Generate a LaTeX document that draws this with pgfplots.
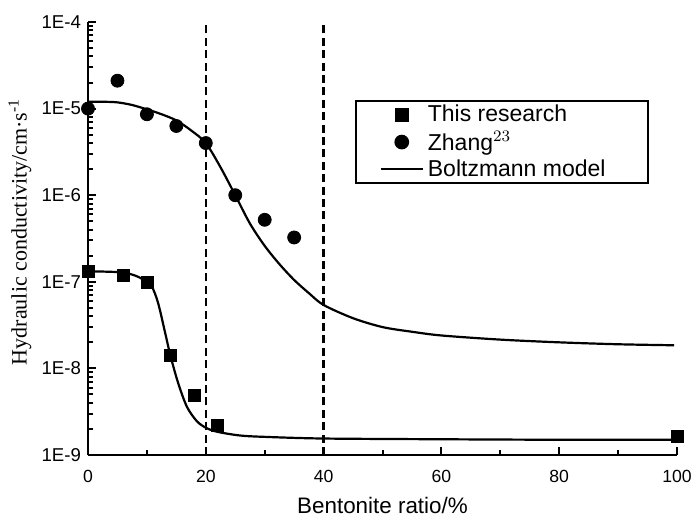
\documentclass[border=0pt]{standalone}
\usepackage{fontspec}
\setmainfont{Liberation Sans}
\newfontfamily\timesf{Liberation Serif}
\usepackage{pgfplots}
\pgfplotsset{compat=1.18}
\pgfplotsset{
 legmark/.style={legend image code/.code={\draw[##1,mark repeat=2,mark phase=2] plot coordinates {(0pt,0pt) (10.5pt,0pt) (21pt,0pt)};}},
 legline/.style={legend image code/.code={\draw[##1] (0pt,0pt) -- (21pt,0pt);}},
}
\begin{document}
\begin{tikzpicture}
\begin{axis}[
 scale only axis, width=294.5pt, height=216.5pt,
 xmin=0, xmax=100, ymin=1e-9, ymax=1e-4, ymode=log,
 axis lines=left, axis line style={line width=1.2pt,-},
 clip=false,
 tick align=inside, tick pos=left,
 major tick length=4pt, minor tick length=2.4pt,
 every tick/.style={black, line width=1pt},
 xtick={0,20,40,60,80,100}, xticklabels={0,20,40,60,80,100}, minor x tick num=1,
 ytick={1e-9,1e-8,1e-7,1e-6,1e-5,1e-4}, yticklabels={1E-9,1E-8,1E-7,1E-6,1E-5,1E-4},
 xticklabel style={font=\fontsize{8.8}{10}\selectfont, yshift=-4pt},
 yticklabel style={font=\fontsize{9.3}{10}\selectfont},
 xlabel={Bentonite ratio/\%},
 xlabel style={font=\fontsize{11.2}{13}\selectfont, at={(axis description cs:0.5,-0.0808)}, anchor=north},
 ylabel={\timesf Hydraulic conductivity/cm·s\textsuperscript{-1}},
 ylabel style={font=\fontsize{11}{13}\selectfont, at={(axis description cs:-0.1155,0.515)}, anchor=center},
 legend style={font=\fontsize{11.5}{14}\selectfont, draw=black, line width=0.85pt,
   at={(axis description cs:0.453,0.82)}, anchor=north west, inner xsep=12pt, inner ysep=0.5pt,
   nodes={inner ysep=1.6pt, inner xsep=2pt}},
 legend cell align=left,
]
\addplot[only marks, mark=square*, mark size=3pt, black, legmark]
 coordinates {(0,1.33e-7) (6,1.2e-7) (10,9.8e-8) (14,1.4e-8) (18,4.9e-9) (22,2.2e-9) (100,1.65e-9)};
\addlegendentry{This research}
\addplot[only marks, mark=*, mark size=3.25pt, black, legmark]
 coordinates {(0,1.0e-5) (5,2.1e-5) (10,8.6e-6) (15,6.3e-6) (20,4.0e-6) (25,1.0e-6) (30,5.2e-7) (35,3.25e-7)};
\addlegendentry{Zhang$^{23}$}
\addplot[black, line width=1.1pt, smooth, no marks, legline]
 coordinates {(0,1.2e-5) (2.5,1.2e-5) (5,1.18e-5) (7.5,1.1e-5) (10,9.8e-6) (12.5,8.6e-6) (15,7.3e-6) (17.5,5.6e-6) (20,4.0e-6) (22.5,2.1e-6) (25,1.0e-6) (27.5,4.7e-7) (30,2.6e-7) (32.5,1.6e-7) (35,1.05e-7) (37.5,7.4e-8) (40,5.4e-8) (45,3.8e-8) (50,3.0e-8) (55,2.65e-8) (60,2.4e-8) (70,2.15e-8) (80,2.0e-8) (90,1.9e-8) (99.5,1.85e-8)};
\addlegendentry{\makebox[96pt][l]{Boltzmann model}}
\addplot[black, line width=1.1pt, smooth, no marks, forget plot]
 coordinates {(0,1.32e-7) (3,1.31e-7) (6,1.28e-7) (8,1.18e-7) (9.5,1.05e-7) (10.8,8.9e-8) (11.9,5.7e-8) (13.1,2.57e-8) (14,1.4e-8) (15.3,6.8e-9) (16.8,3.6e-9) (18.5,2.45e-9) (20.1,2.05e-9) (22,1.85e-9) (25.8,1.68e-9) (30,1.62e-9) (40,1.55e-9) (60,1.52e-9) (80,1.5e-9) (100,1.5e-9)};
\addplot[black, line width=1.2pt, dash pattern=on 4pt off 2.2pt, forget plot] coordinates {(20,1e-9) (20,9.2e-5)};
\addplot[black, line width=1.2pt, dash pattern=on 4pt off 2.2pt, forget plot] coordinates {(40,1e-9) (40,9.2e-5)};
\end{axis}
\pgfresetboundingbox
\path ([xshift=-44pt,yshift=-31pt]current axis.south west) rectangle ([xshift=8.5pt,yshift=11pt]current axis.north east);
\end{tikzpicture}
\end{document}
